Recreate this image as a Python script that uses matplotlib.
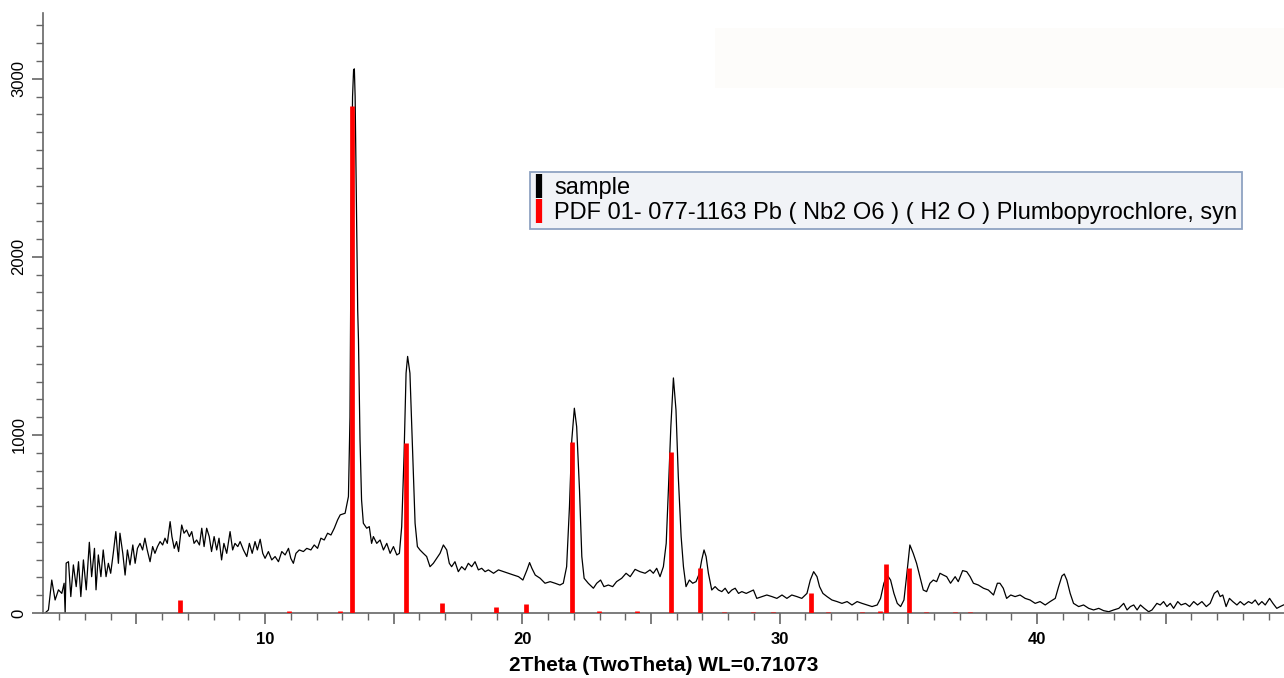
import numpy as np
import matplotlib.pyplot as plt
from matplotlib.lines import Line2D
from matplotlib.patches import Rectangle
from matplotlib.ticker import MultipleLocator, FixedLocator, FuncFormatter

plt.rcParams['font.family'] = ['Liberation Sans', 'DejaVu Sans']

theta = [1.45, 1.58, 1.71, 1.84, 1.97, 2.10, 2.19, 2.23, 2.27, 2.36, 2.45, 2.55, 2.66, 2.75,
         2.84, 2.94, 3.05, 3.17, 3.26, 3.37, 3.43, 3.52, 3.62, 3.71, 3.82, 3.91, 4.00, 4.10,
         4.20, 4.30, 4.36, 4.47, 4.56, 4.65, 4.75, 4.86, 4.95, 5.04, 5.14, 5.24, 5.33, 5.42,
         5.53, 5.63, 5.72, 5.82, 5.92, 6.02, 6.11, 6.20, 6.31, 6.38, 6.47, 6.56, 6.64, 6.76,
         6.85, 6.95, 7.06, 7.15, 7.24, 7.34, 7.45, 7.54, 7.63, 7.73, 7.83, 7.92, 8.02, 8.12,
         8.21, 8.31, 8.40, 8.51, 8.64, 8.74, 8.83, 8.94, 9.03, 9.16, 9.29, 9.39, 9.50, 9.61,
         9.70, 9.81, 9.91, 10.00, 10.13, 10.26, 10.39, 10.52, 10.65, 10.78, 10.91, 11.00,
         11.10, 11.20, 11.33, 11.49, 11.62, 11.78, 11.91, 12.04, 12.17, 12.30, 12.43, 12.56,
         12.69, 12.82, 12.92, 13.11, 13.24, 13.30, 13.35, 13.40, 13.44, 13.47, 13.50, 13.55,
         13.60, 13.63, 13.69, 13.75, 13.82, 13.95, 14.05, 14.14, 14.21, 14.34, 14.47, 14.60,
         14.73, 14.86, 14.99, 15.12, 15.22, 15.31, 15.40, 15.48, 15.54, 15.63, 15.74, 15.83,
         15.92, 16.02, 16.15, 16.28, 16.41, 16.54, 16.67, 16.80, 16.93, 17.06, 17.16, 17.25,
         17.38, 17.51, 17.64, 17.77, 17.90, 18.03, 18.16, 18.29, 18.42, 18.55, 18.68, 18.88,
         19.07, 19.27, 19.46, 19.66, 19.85, 20.02, 20.18, 20.28, 20.37, 20.50, 20.69, 20.88,
         21.08, 21.27, 21.46, 21.59, 21.72, 21.83, 21.92, 22.02, 22.11, 22.22, 22.31, 22.40,
         22.56, 22.76, 22.89, 23.04, 23.17, 23.34, 23.51, 23.66, 23.86, 24.03, 24.19, 24.38,
         24.57, 24.77, 24.96, 25.09, 25.22, 25.35, 25.48, 25.59, 25.68, 25.77, 25.87, 25.97,
         26.06, 26.17, 26.26, 26.36, 26.49, 26.62, 26.75, 26.88, 26.97, 27.06, 27.14, 27.23,
         27.36, 27.49, 27.62, 27.75, 27.88, 28.01, 28.14, 28.27, 28.40, 28.53, 28.70, 28.85,
         28.98, 29.11, 29.31, 29.50, 29.70, 29.89, 30.09, 30.28, 30.47, 30.67, 30.86, 31.06,
         31.19, 31.32, 31.45, 31.55, 31.68, 31.84, 32.03, 32.23, 32.42, 32.62, 32.81, 33.01,
         33.20, 33.40, 33.59, 33.79, 33.92, 34.05, 34.18, 34.31, 34.44, 34.57, 34.70, 34.83,
         34.93, 35.06, 35.19, 35.32, 35.45, 35.58, 35.71, 35.84, 35.97, 36.10, 36.23, 36.36,
         36.49, 36.64, 36.82, 36.94, 37.11, 37.27, 37.40, 37.53, 37.72, 37.92, 38.11, 38.31,
         38.46, 38.56, 38.69, 38.82, 38.98, 39.15, 39.34, 39.54, 39.73, 39.93, 40.12, 40.32,
         40.51, 40.71, 40.84, 40.97, 41.06, 41.16, 41.29, 41.42, 41.62, 41.81, 42.01, 42.20,
         42.40, 42.59, 42.79, 42.98, 43.18, 43.37, 43.50, 43.63, 43.76, 43.89, 44.02, 44.17,
         44.34, 44.47, 44.66, 44.79, 44.92, 45.05, 45.18, 45.31, 45.47, 45.60, 45.77, 45.93,
         46.09, 46.24, 46.41, 46.58, 46.73, 46.89, 47.02, 47.12, 47.22, 47.35, 47.48, 47.61,
         47.77, 47.90, 48.05, 48.22, 48.35, 48.48, 48.61, 48.74, 48.87, 49.04, 49.17, 49.32,
         49.45, 49.58]
counts = [0, 17, 185, 73, 130, 110, 167, 0, 280, 288, 92, 270, 148, 288,
          92, 298, 130, 397, 204, 363, 130, 326, 204, 354, 204, 279, 223, 335,
          457, 279, 448, 335, 213, 354, 270, 382, 279, 363, 391, 354, 420, 354,
          288, 373, 335, 373, 401, 382, 420, 391, 513, 429, 363, 401, 345, 494,
          448, 466, 429, 457, 391, 410, 382, 476, 373, 476, 429, 345, 429, 354,
          420, 298, 391, 335, 457, 354, 391, 373, 401, 354, 317, 391, 335, 401,
          354, 414, 335, 307, 345, 298, 317, 288, 345, 326, 363, 307,
          279, 335, 354, 345, 363, 354, 382, 363, 420, 410, 448, 438,
          476, 523, 551, 560, 654, 1100, 2300, 2900, 3050, 3056, 2900, 2300,
          1700, 1534, 971, 635, 504, 476, 485, 391, 429, 391, 410, 354,
          391, 335, 373, 326, 335, 485, 879, 1347, 1441, 1347, 879, 504,
          373, 354, 335, 317, 260, 279, 307, 335, 382, 354, 279, 260,
          288, 232, 260, 242, 279, 260, 288, 242, 251, 232, 242, 223,
          242, 232, 223, 213, 204, 185, 242, 283, 251, 213, 195, 167,
          176, 167, 157, 167, 260, 597, 971, 1150, 1046, 691, 317, 195,
          167, 139, 167, 185, 148, 157, 148, 176, 195, 223, 204, 245,
          232, 223, 242, 223, 251, 204, 260, 391, 710, 1046, 1320, 1140,
          766, 429, 260, 148, 185, 167, 176, 223, 298, 354, 317, 223,
          129, 148, 129, 120, 139, 110, 129, 139, 110, 120, 110, 120,
          129, 82, 92, 101, 92, 82, 101, 82, 101, 92, 82, 110,
          185, 232, 204, 148, 110, 92, 73, 64, 54, 64, 45, 64,
          54, 45, 36, 45, 82, 167, 213, 185, 110, 54, 36, 73,
          204, 382, 335, 279, 204, 129, 120, 167, 185, 176, 223, 213,
          204, 167, 204, 176, 238, 232, 204, 167, 157, 139, 129, 101,
          167, 167, 139, 82, 101, 92, 101, 82, 73, 54, 64, 45,
          64, 82, 148, 208, 219, 185, 110, 54, 36, 45, 26, 17,
          26, 13, 7, 17, 26, 54, 17, 36, 45, 17, 45, 26,
          7, 17, 54, 45, 64, 36, 54, 26, 64, 45, 54, 36,
          64, 45, 64, 36, 54, 110, 125, 92, 101, 36, 82, 64,
          45, 64, 45, 64, 54, 73, 45, 64, 45, 82, 54, 26,
          36, 45]

# штрих-диаграмма PDF 01-077-1163
ref_pos = [6.68, 10.93, 12.90, 13.38, 15.46, 16.87, 18.97, 20.13, 21.92, 22.96, 24.47,
           25.76, 26.92, 27.85, 28.97, 29.75, 31.23, 31.88, 33.18, 33.88, 34.12, 35.03,
           35.70, 36.80, 37.40]
ref_int = [75, 12, 12, 2850, 955, 55, 35, 50, 960, 10, 10,
           905, 250, 8, 8, 8, 115, 8, 8, 12, 275, 250,
           8, 8, 8]

sample_label = 'sample'
ref_label = 'PDF 01- 077-1163 Pb ( Nb2 O6 ) ( H2 O ) Plumbopyrochlore, syn'
x_label = '2Theta (TwoTheta) WL=0.71073'

fig = plt.figure(figsize=(12.84, 6.78), dpi=100)
ax = fig.add_axes([0.0335, 0.0959, 0.9665, 0.885])

# бледная плашка сверху справа
fig.patches.append(Rectangle((715 / 1284, 1 - 88 / 678), 569 / 1284, 60 / 678,
                             transform=fig.transFigure, facecolor='#fdfcfa',
                             edgecolor='none', zorder=0))

ax.plot(theta, counts, color='black', lw=0.9, zorder=2)
ax.vlines(ref_pos, 0, ref_int, color='#ff0000', lw=3.4, zorder=3)

ax.patch.set_alpha(0)

for s in ['top', 'right']:
    ax.spines[s].set_visible(False)
for s in ['left', 'bottom']:
    ax.spines[s].set_color('#666666')
    ax.spines[s].set_linewidth(1.2)

ax.xaxis.set_major_locator(MultipleLocator(5))
ax.xaxis.set_minor_locator(MultipleLocator(1))
ax.xaxis.set_major_formatter(FuncFormatter(lambda v, p: '' if round(v) % 10 else str(int(round(v)))))
ax.yaxis.set_major_locator(MultipleLocator(1000))
ax.yaxis.set_minor_locator(FixedLocator(np.arange(0, 3400, 100)))
ax.tick_params(which='major', length=8, width=1.2, color='#666666')
ax.tick_params(which='minor', length=5, width=1.0, color='#666666')
ax.tick_params(axis='x', pad=6, labelsize=12)
ax.tick_params(axis='y', pad=4, labelsize=12)
for lab in ax.get_xticklabels():
    lab.set_fontweight('bold')
for lab in ax.get_yticklabels():
    lab.set_rotation(90)
    lab.set_va('center')
ax.set_xlim(1.37, 49.6)
ax.set_ylim(0, 3370)
ax.set_xlabel(x_label, fontsize=15, fontweight='bold', labelpad=6)

handles = [Line2D([], [], ls='none', marker='|', ms=17, mew=4.5, color='black'),
           Line2D([], [], ls='none', marker='|', ms=17, mew=4.5, color='#ff0000')]
leg = ax.legend(handles, [sample_label, ref_label], loc='upper left',
                bbox_to_anchor=(530 / 1284, 1 - 172 / 678), bbox_transform=fig.transFigure,
                borderaxespad=0, fontsize=17, handlelength=0.3, handletextpad=0.5,
                labelspacing=0.12, borderpad=0.22, fancybox=False,
                framealpha=1, facecolor='#f1f3f7', edgecolor='#8fa3c2')
leg.get_frame().set_linewidth(1.3)

fig.savefig('out.png', dpi=100)
